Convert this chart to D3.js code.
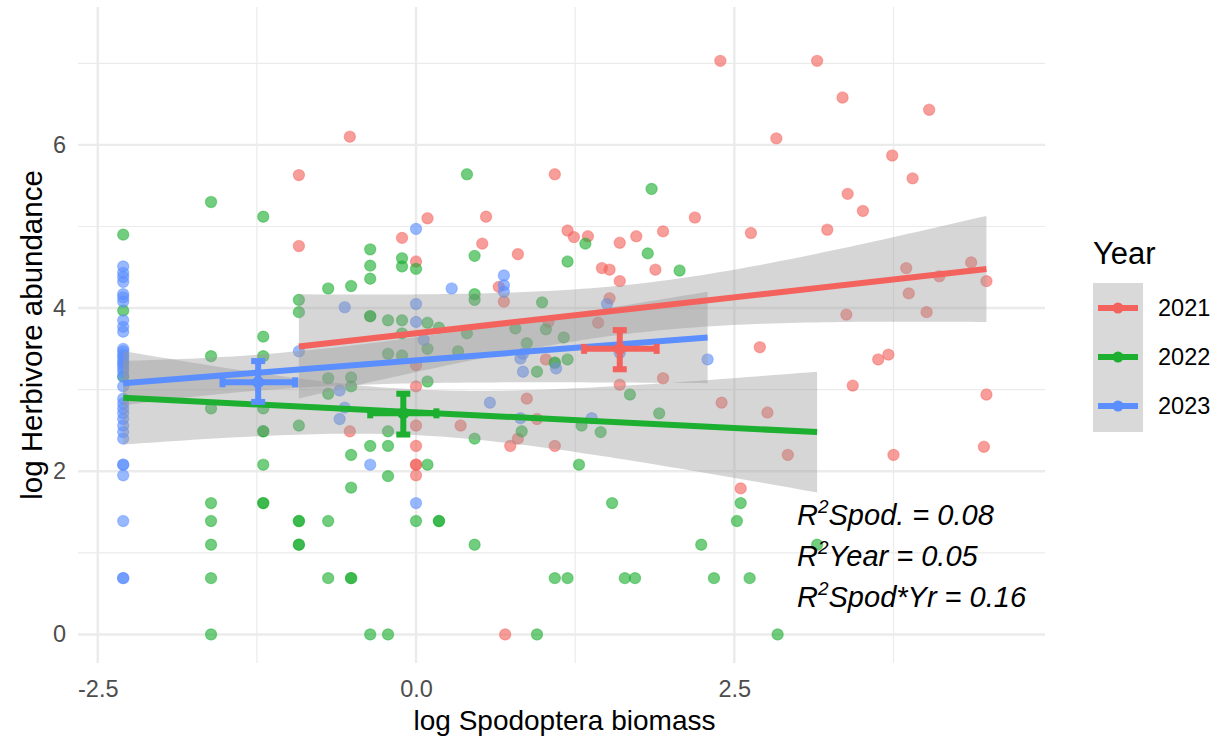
<!DOCTYPE html>
<html>
<head>
<meta charset="utf-8">
<script src="https://cdn.jsdelivr.net/npm/d3@7"></script>
<style>
  html, body { margin: 0; padding: 0; background: #fff; }
  svg { display: block; font-family: "Liberation Sans", Arial, Helvetica, sans-serif; }
</style>
</head>
<body>
<svg id="chart" width="1222" height="744"></svg>
<script>
// ---- data: log Spodoptera biomass (x) vs log Herbivore abundance (y), per year ----
const years = ["2021", "2022", "2023"];
const yearColors = ["#F3625C", "#1CAF30", "#5B8EFF"];

const obs2021 = [
  [-0.92,5.63],[-0.52,6.10],[-0.92,4.76],[-0.11,4.86],[0.00,4.57],[2.39,7.03],[1.09,5.64],
  [2.19,5.11],[0.09,5.10],[0.55,5.12],[0.52,4.79],[1.19,4.95],[1.24,4.87],[1.35,4.88],
  [1.60,4.80],[1.73,4.88],[1.94,4.94],[1.88,4.47],[0.80,4.66],[1.46,4.49],[1.52,4.47],
  [1.60,4.33],[0.65,4.26],[0.69,4.08],[1.52,4.12],[1.04,3.83],[1.43,3.82],[1.02,3.37],
  [0.00,3.30],[1.60,3.06],[1.94,3.14],[0.00,3.04],[2.40,2.84],[0.87,2.89],[0.95,2.64],
  [0.80,2.40],[0.74,2.31],[0.35,2.56],[1.09,2.31],[0.00,2.56],[0.00,2.31],[0.00,2.08],
  [0.00,2.08],[0.00,1.95],[-0.52,2.49],[0.70,0.00],[2.55,1.79],[3.15,7.03],[3.35,6.58],
  [4.03,6.43],[2.83,6.08],[3.74,5.87],[3.90,5.59],[3.39,5.40],[3.51,5.19],[2.63,4.92],
  [3.23,4.96],[3.85,4.49],[4.36,4.56],[4.11,4.39],[4.48,4.33],[3.87,4.18],[4.01,3.95],
  [3.38,3.92],[2.70,3.52],[3.63,3.37],[3.71,3.43],[3.43,3.05],[4.48,2.94],[2.76,2.72],
  [2.92,2.20],[3.75,2.20],[4.46,2.30]
];

const obs2022 = [
  [-2.30,4.90],[-2.30,3.97],[-2.30,3.16],
  [-1.61,5.30],[-1.61,3.41],[-1.61,2.77],[-1.61,1.61],[-1.61,1.39],[-1.61,1.10],[-1.61,0.69],[-1.61,0.00],
  [-1.20,5.12],[-1.20,3.65],[-1.20,3.41],[-1.20,2.77],[-1.20,2.49],[-1.20,2.49],[-1.20,2.08],[-1.20,1.61],[-1.20,1.61],
  [-0.92,4.10],[-0.92,3.95],[-0.92,2.56],[-0.92,1.39],[-0.92,1.39],[-0.92,1.10],[-0.92,1.10],
  [-0.69,4.24],[-0.69,3.14],[-0.69,2.95],[-0.69,1.39],[-0.69,0.69],
  [-0.51,4.27],[-0.51,3.15],[-0.51,3.04],[-0.51,2.20],[-0.51,1.80],[-0.51,0.69],[-0.51,0.69],
  [-0.36,4.72],[-0.36,4.52],[-0.36,4.36],[-0.36,3.90],[-0.36,3.90],[-0.36,2.31],[-0.36,0.00],
  [-0.22,3.85],[-0.22,3.44],[-0.22,2.49],[-0.22,2.31],[-0.22,1.94],[-0.22,0.00],
  [-0.11,4.61],[-0.11,4.51],[-0.11,3.85],[-0.11,3.69],[-0.11,3.42],
  [0.00,4.48],[0.00,1.39],
  [0.09,3.82],[0.09,3.50],[0.09,3.10],[0.09,2.08],
  [0.18,3.76],[0.18,1.39],[0.18,1.39],
  [0.33,3.47],[0.40,5.64],[0.40,3.69],[0.46,4.64],[0.46,4.17],[0.46,4.10],[0.46,2.40],[0.46,1.10],
  [0.78,3.75],[0.87,3.57],[0.95,3.22],[0.95,0.00],[0.83,2.49],[0.99,4.07],[1.02,3.74],
  [1.09,3.33],[1.09,3.33],[1.09,0.69],[1.16,3.64],[1.19,4.57],[1.19,3.37],[1.19,0.69],
  [1.33,4.79],[1.30,2.56],[1.28,2.08],[1.45,2.48],[1.54,1.61],[1.64,0.69],[1.72,0.69],
  [1.68,2.94],[1.82,4.67],[1.85,5.46],[1.91,2.71],[2.07,4.46],[2.24,1.10],[2.34,0.69],
  [2.55,1.61],[2.52,1.39],[2.62,0.69],[2.84,0.00],[3.15,1.10]
];

const obs2023 = [
  [-2.30,4.51],[-2.30,4.43],[-2.30,4.38],[-2.30,4.32],[-2.30,4.17],[-2.30,4.13],[-2.30,4.08],
  [-2.30,3.85],[-2.30,3.77],[-2.30,3.71],[-2.30,3.50],[-2.30,3.47],[-2.30,3.43],[-2.30,3.40],
  [-2.30,3.36],[-2.30,3.33],[-2.30,3.30],[-2.30,3.26],[-2.30,3.22],[-2.30,3.16],[-2.30,3.04],
  [-2.30,2.89],[-2.30,2.83],[-2.30,2.77],[-2.30,2.71],[-2.30,2.64],[-2.30,2.56],[-2.30,2.48],
  [-2.30,2.40],[-2.30,2.08],[-2.30,2.08],[-2.30,1.95],[-2.30,1.39],[-2.30,0.69],[-2.30,0.69],
  [-0.92,3.47],[-0.56,4.01],[-0.60,2.99],[-0.56,2.78],[-0.60,2.64],[-0.36,2.08],
  [0.00,4.97],[0.00,4.05],[0.00,3.83],[0.00,1.61],[0.06,3.61],[0.28,4.24],
  [0.69,4.40],[0.69,4.28],[0.69,4.20],[1.50,4.05],[0.82,3.38],[0.84,3.44],[1.10,3.26],
  [0.84,3.22],[2.29,3.37],[1.60,3.45],[0.58,2.84],[0.82,2.65],[1.38,2.65]
];

// fitted lines (per year) and their confidence bands
const fitXFrom = [-0.92, -2.30, -2.30];
const fitXTo   = [ 4.48,  3.15,  2.29];
const fitYFrom = [ 3.53,  2.90,  3.08];
const fitYTo   = [ 4.48,  2.48,  3.64];
const bandNarrowX  = [1.75, 0.00, -1.20];  // where the band is narrowest
const bandNarrowHW = [0.30, 0.28, 0.22];   // half-width there
const bandEndHW    = [0.65, 0.74, 0.56];   // half-width at the right end of the fit

// year means with error bars
const meanX = [1.60, -0.10, -1.24];
const meanY = [3.50,  2.71,  3.09];
const meanXLo = [1.32, -0.36, -1.52];
const meanXHi = [1.89,  0.16, -0.95];
const meanYLo = [3.25,  2.45,  2.85];
const meanYHi = [3.73,  2.95,  3.35];

// axes
const xMajor = [-2.5, 0, 2.5];
const xMinor = [-1.25, 1.25, 3.75];
const yMajor = [0, 2, 4, 6];
const yMinor = [1, 3, 5, 7];

const r2Labels = ["Spod. = 0.08", "Year = 0.05", "Spod*Yr = 0.16"];

// ---- drawing ----
const svg = d3.select("#chart");
const panel = { left: 78, right: 1045, top: 7, bottom: 663 };

const x = d3.scaleLinear().domain([-2.655, 4.94]).range([panel.left, panel.right]);
const y = d3.scaleLinear().domain([-0.35, 7.69]).range([panel.bottom, panel.top]);

const grid = svg.append("g");
grid.selectAll("line.xminor").data(xMinor).join("line")
  .attr("x1", d => x(d)).attr("x2", d => x(d))
  .attr("y1", panel.top).attr("y2", panel.bottom)
  .attr("stroke", "#EBEBEB").attr("stroke-width", 1.2);
grid.selectAll("line.yminor").data(yMinor).join("line")
  .attr("y1", d => y(d)).attr("y2", d => y(d))
  .attr("x1", panel.left).attr("x2", panel.right)
  .attr("stroke", "#EBEBEB").attr("stroke-width", 1.2);
grid.selectAll("line.xmajor").data(xMajor).join("line")
  .attr("x1", d => x(d)).attr("x2", d => x(d))
  .attr("y1", panel.top).attr("y2", panel.bottom)
  .attr("stroke", "#EBEBEB").attr("stroke-width", 2.4);
grid.selectAll("line.ymajor").data(yMajor).join("line")
  .attr("y1", d => y(d)).attr("y2", d => y(d))
  .attr("x1", panel.left).attr("x2", panel.right)
  .attr("stroke", "#EBEBEB").attr("stroke-width", 2.4);

// axes (labels only)
const xAxis = svg.append("g")
  .attr("transform", `translate(0,${panel.bottom})`)
  .call(d3.axisBottom(x).tickValues(xMajor).tickFormat(d => d.toFixed(1)).tickSize(0).tickPadding(17));
const yAxis = svg.append("g")
  .attr("transform", `translate(${panel.left},0)`)
  .call(d3.axisLeft(y).tickValues(yMajor).tickFormat(d => String(d)).tickSize(0).tickPadding(12));
[xAxis, yAxis].forEach(g => {
  g.select(".domain").remove();
  g.selectAll("text").attr("font-size", 23.5).attr("fill", "#4D4D4D")
    .attr("font-family", "'Liberation Sans', Arial, sans-serif");
});

svg.append("text")
  .attr("x", (panel.left + panel.right) / 2 + 3).attr("y", 730)
  .attr("text-anchor", "middle").attr("font-size", 28).attr("fill", "#000")
  .text("log Spodoptera biomass");
svg.append("text")
  .attr("transform", `translate(42,${(panel.top + panel.bottom) / 2}) rotate(-90)`)
  .attr("text-anchor", "middle").attr("font-size", 29.5).attr("fill", "#000")
  .text("log Herbivore abundance");

// points
const allObs = [obs2021, obs2022, obs2023];
const pts = svg.append("g");
allObs.forEach((obs, i) => {
  pts.selectAll(null).data(obs).join("circle")
    .attr("cx", d => x(d[0])).attr("cy", d => y(d[1]))
    .attr("r", 5.6)
    .attr("fill", yearColors[i]).attr("fill-opacity", 0.62)
    .attr("stroke", yearColors[i]).attr("stroke-opacity", 0.45).attr("stroke-width", 1.2);
});

// confidence bands
function bandRows(i) {
  const k = (bandEndHW[i] ** 2 - bandNarrowHW[i] ** 2) / ((fitXTo[i] - bandNarrowX[i]) ** 2);
  const n = 80, rows = [];
  for (let j = 0; j <= n; j++) {
    const t = j / n;
    const xv = fitXFrom[i] + (fitXTo[i] - fitXFrom[i]) * t;
    const yc = fitYFrom[i] + (fitYTo[i] - fitYFrom[i]) * t;
    const hw = Math.sqrt(bandNarrowHW[i] ** 2 + k * (xv - bandNarrowX[i]) ** 2);
    rows.push({ x: xv, lo: yc - hw, hi: yc + hw });
  }
  return rows;
}
const area = d3.area().x(d => x(d.x)).y0(d => y(d.lo)).y1(d => y(d.hi));
const bands = svg.append("g");
years.forEach((yr, i) => {
  bands.append("path").datum(bandRows(i)).attr("d", area)
    .attr("fill", "#999999").attr("fill-opacity", 0.4);
});

// fitted lines
const lines = svg.append("g");
years.forEach((yr, i) => {
  lines.append("line")
    .attr("x1", x(fitXFrom[i])).attr("y1", y(fitYFrom[i]))
    .attr("x2", x(fitXTo[i])).attr("y2", y(fitYTo[i]))
    .attr("stroke", yearColors[i]).attr("stroke-width", 6);
});

// means with error bars
const means = svg.append("g");
years.forEach((yr, i) => {
  const c = yearColors[i];
  const g = means.append("g");
  // horizontal bar
  g.append("line").attr("x1", x(meanXLo[i])).attr("x2", x(meanXHi[i]))
    .attr("y1", y(meanY[i])).attr("y2", y(meanY[i])).attr("stroke", c).attr("stroke-width", 6);
  [meanXLo[i], meanXHi[i]].forEach(v => {
    g.append("line").attr("x1", x(v)).attr("x2", x(v))
      .attr("y1", y(meanY[i]) - 5).attr("y2", y(meanY[i]) + 5).attr("stroke", c).attr("stroke-width", 6);
  });
  // vertical bar
  g.append("line").attr("x1", x(meanX[i])).attr("x2", x(meanX[i]))
    .attr("y1", y(meanYLo[i])).attr("y2", y(meanYHi[i])).attr("stroke", c).attr("stroke-width", 6);
  [meanYLo[i], meanYHi[i]].forEach(v => {
    g.append("line").attr("x1", x(meanX[i]) - 7).attr("x2", x(meanX[i]) + 7)
      .attr("y1", y(v)).attr("y2", y(v)).attr("stroke", c).attr("stroke-width", 6);
  });
  g.append("circle").attr("cx", x(meanX[i])).attr("cy", y(meanY[i])).attr("r", 6).attr("fill", c);
});

// R² annotation
const ann = svg.append("g").attr("font-style", "italic").attr("fill", "#000");
r2Labels.forEach((lab, i) => {
  const t = ann.append("text").attr("x", 797).attr("y", 525 + i * 41).attr("font-size", 29);
  t.append("tspan").text("R");
  t.append("tspan").attr("font-size", 19).attr("dy", -12).text("2");
  t.append("tspan").attr("dy", 12).text(lab);
});

// legend
const leg = svg.append("g");
leg.append("text").attr("x", 1093).attr("y", 264).attr("font-size", 31).attr("fill", "#000").text("Year");
leg.append("rect").attr("x", 1093).attr("y", 283).attr("width", 50).attr("height", 149).attr("fill", "#D9D9D9");
const keyY = d3.scalePoint().domain(years).range([308, 406]);
years.forEach((yr, i) => {
  const ky = keyY(yr);
  leg.append("line").attr("x1", 1098).attr("x2", 1138).attr("y1", ky).attr("y2", ky)
    .attr("stroke", yearColors[i]).attr("stroke-width", 6);
  leg.append("circle").attr("cx", 1118).attr("cy", ky).attr("r", 5.5).attr("fill", yearColors[i]);
  leg.append("text").attr("x", 1158).attr("y", ky).attr("dy", "0.36em")
    .attr("font-size", 23.5).attr("fill", "#000").text(yr);
});
</script>
</body>
</html>
